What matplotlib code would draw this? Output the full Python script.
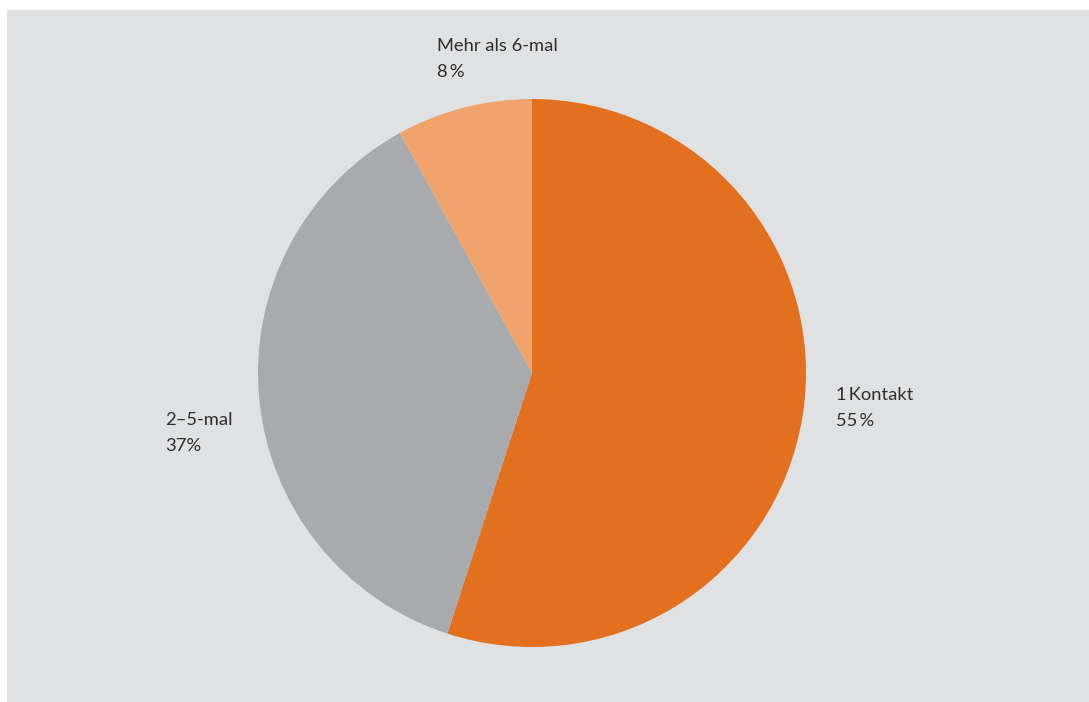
import matplotlib
matplotlib.use("Agg")
import matplotlib.pyplot as plt
from matplotlib.patches import Rectangle

plt.rcParams['font.family'] = ['Lato', 'DejaVu Sans']

labels = ['1\u2009Kontakt', '2–5-mal', 'Mehr als 6-mal']
shares = [55, 37, 8]
share_texts = ['55\u2009%', '37%', '8\u2009%']
colors = ['#e3701e', '#a9aaad', '#f0a46c']

W, H = 1089, 702
fig = plt.figure(figsize=(W / 100, H / 100), dpi=100, facecolor='white')
ax = fig.add_axes([0, 0, 1, 1])

# grey panel behind the pie
ax.add_patch(Rectangle((7, 0), W - 7, H - 10, facecolor='#e0e1e3', edgecolor='none', zorder=0))

ax.pie(shares, colors=colors, startangle=90, counterclock=False,
       center=(532, H - 373), radius=274, frame=True,
       wedgeprops=dict(linewidth=0))
ax.set_xlim(0, W)
ax.set_ylim(0, H)
ax.set_aspect('equal')
ax.axis('off')

# label anchors (left edge, first line centre)
label_pos = [(836, 395), (165, 420), (437, 46)]
for lab, txt, (x, y) in zip(labels, share_texts, label_pos):
    ax.text(x, H - y, lab, ha='left', va='center', fontsize=13.2, color='#2e2e2e')
    ax.text(x, H - y - 26, txt, ha='left', va='center', fontsize=13.2, color='#2e2e2e')

fig.savefig('out.png', dpi=100, facecolor='white')
